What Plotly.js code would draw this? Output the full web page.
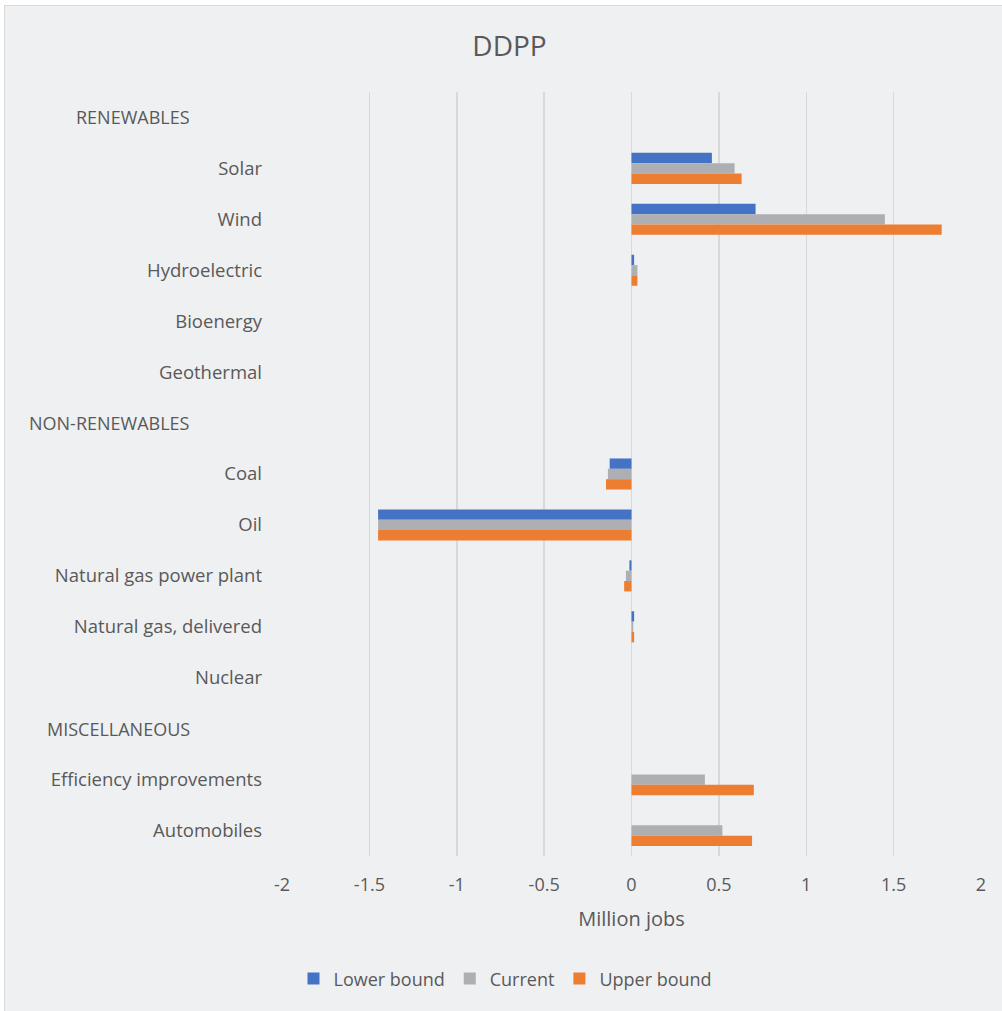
<!DOCTYPE html>
<html>
<head>
<meta charset="utf-8">
<script src="https://cdn.plot.ly/plotly-3.0.1.min.js"></script>
<style>
  html, body { margin: 0; padding: 0; background: #ffffff; }
  #frame {
    position: absolute; left: 4px; top: 5px;
    width: 997px; height: 1005px;
    border-left: 1px solid #d9d9d9; border-top: 1px solid #d9d9d9;
    background: #eff0f2;
  }
  #chart { width: 997px; height: 1005px; }
</style>
</head>
<body>
<div id="frame"><div id="chart"></div></div>
<script>
// Job impact by energy source (million jobs)
const categories = [
  'RENEWABLES', 'Solar', 'Wind', 'Hydroelectric', 'Bioenergy', 'Geothermal',
  'NON-RENEWABLES', 'Coal', 'Oil', 'Natural gas power plant', 'Natural gas, delivered', 'Nuclear',
  'MISCELLANEOUS', 'Efficiency improvements', 'Automobiles'
];
const groupHeaders = ['RENEWABLES', 'NON-RENEWABLES', 'MISCELLANEOUS'];

const lowerBound = [null, 0.46, 0.71, 0.015, null, null, null, -0.125, -1.45, -0.012, 0.015, null, null, null, null];
const current    = [null, 0.59, 1.45, 0.034, null, null, null, -0.135, -1.45, -0.032, 0.010, null, null, 0.42, 0.52];
const upperBound = [null, 0.63, 1.775, 0.034, null, null, null, -0.146, -1.45, -0.042, 0.015, null, null, 0.70, 0.69];

const xTicks = [-2, -1.5, -1, -0.5, 0, 0.5, 1, 1.5, 2];

const FONT = '"Open Sans", Lato, sans-serif';
const TEXT = '#595959';

function series(name, values, color) {
  return {
    type: 'bar', orientation: 'h', name: name,
    x: values, y: categories,
    marker: { color: color, line: { width: 0 } },
    hoverinfo: 'skip'
  };
}

const data = [
  series('Lower bound', lowerBound, '#4472c4'),
  series('Current', current, '#aeafb2'),
  series('Upper bound', upperBound, '#ed7d31')
];

// Group headings sit further left than the item labels
const headerNotes = groupHeaders.map(h => ({
  text: h, xref: 'paper', yref: 'y', x: 0, y: h,
  xanchor: 'right', yanchor: 'middle', xshift: -90, showarrow: false,
  font: { family: FONT, size: 18, color: TEXT }
}));

const layout = {
  width: 997, height: 1005,
  paper_bgcolor: '#eff0f2', plot_bgcolor: '#eff0f2',
  margin: { l: 277, r: 21, t: 86, b: 155 },
  barmode: 'group', bargap: 0.39, bargroupgap: 0,
  showlegend: true,
  font: { family: FONT, color: TEXT, size: 18 },
  title: {
    text: 'DDPP', xref: 'container', yref: 'container',
    x: 0.506, y: 0.96, xanchor: 'center', yanchor: 'middle',
    font: { family: FONT, size: 28, color: TEXT }
  },
  xaxis: {
    range: [-2, 2], tickvals: xTicks, ticktext: xTicks.map(String),
    showgrid: true, gridcolor: '#d9d9d9', gridwidth: 1.5,
    zeroline: true, zerolinecolor: '#d9d9d9', zerolinewidth: 1.5,
    showline: false, ticks: '', ticklabelstandoff: 16,
    tickfont: { family: FONT, size: 18, color: TEXT },
    title: { text: 'Million jobs', standoff: 16, font: { family: FONT, size: 20, color: TEXT } },
    fixedrange: true
  },
  yaxis: {
    type: 'category', autorange: 'reversed',
    tickvals: categories,
    ticktext: categories.map(c => groupHeaders.includes(c) ? '' : c),
    showgrid: false, zeroline: false, showline: false, ticks: '',
    ticklabelstandoff: 19,
    tickfont: { family: FONT, size: 18.5, color: TEXT },
    fixedrange: true
  },
  legend: {
    orientation: 'h', xref: 'container', yref: 'container',
    x: 0.502, y: 0.032, xanchor: 'center', yanchor: 'middle',
    font: { family: FONT, size: 18, color: TEXT },
    bgcolor: 'rgba(0,0,0,0)', traceorder: 'normal'
  },
  annotations: headerNotes
};

Plotly.newPlot('chart', data, layout, { displayModeBar: false, staticPlot: true });
</script>
</body>
</html>
